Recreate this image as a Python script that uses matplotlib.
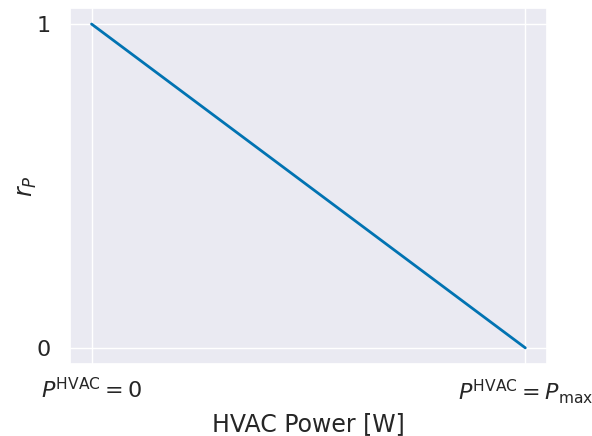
import matplotlib
matplotlib.use("Agg")
import matplotlib.pyplot as plt
import seaborn as sns

# normalised power reward: falls linearly from 1 at zero HVAC power to 0 at max
power = [0.0, 1.0]
reward = [1.0, 0.0]
xtick_labels = [r"$P^{\mathrm{HVAC}} = 0$", r"$P^{\mathrm{HVAC}} = P_{\max}$"]
ytick_labels = ["0", "1"]

sns.set_theme(style="darkgrid", palette="colorblind")

fig, ax = plt.subplots(figsize=(5.92, 4.36), dpi=100)
fig.subplots_adjust(left=0.118, right=0.924, top=0.982, bottom=0.165)

ax.plot(power, reward, lw=2)

ax.set_xticks(power)
ax.set_xticklabels(xtick_labels, fontsize=16)
ax.set_yticks([0, 1])
ax.set_yticklabels(ytick_labels, fontsize=16)
ax.tick_params(axis="y", pad=8)
ax.set_xlabel("HVAC Power [W]", fontsize=17)
ax.set_ylabel(r"$r_P$", fontsize=17, labelpad=-2)

fig.savefig("out.png", dpi=100)
